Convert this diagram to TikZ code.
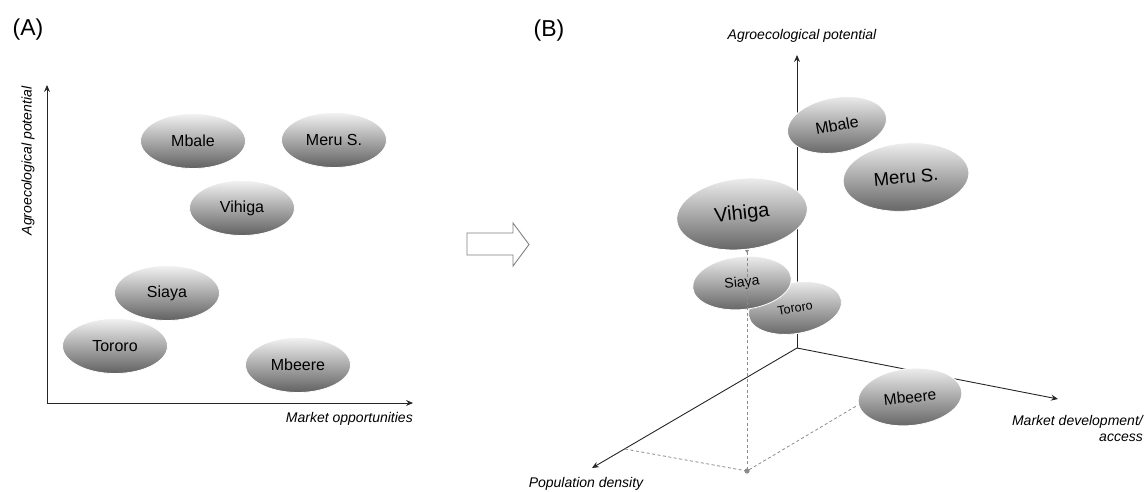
\documentclass[tikz,border=0pt]{standalone}
\usepackage{fontspec}
\setmainfont{Liberation Sans}
\usetikzlibrary{shapes.geometric,arrows.meta}

\begin{document}
\begin{tikzpicture}[x=1pt, y=-1pt,
    site/.style={ellipse, draw=white, line width=0.8pt, inner sep=0pt,
                 top color=black!5, bottom color=black!62,
                 minimum width=105pt, minimum height=55pt,
                 font=\fontsize{16}{18}\selectfont},
    axis/.style={draw=black!85, line width=0.9pt,
                 -{Stealth[length=7pt,width=6pt,inset=2.5pt]}},
    axislabel/.style={font=\fontsize{14}{16}\selectfont\itshape, inner sep=0pt},
    panel/.style={font=\fontsize{23}{26}\selectfont, inner sep=0pt},
    guide/.style={draw=black!45, line width=0.8pt, dash pattern=on 3pt off 2.5pt},
  ]
  \useasboundingbox (0,0) rectangle (1146,491);

  % Panel A: two axes
  \node[panel] (labA) at (28,30) {(A)};
  \coordinate (aO) at (47,403);
  \coordinate (aY) at (47,85);
  \coordinate (aX) at (413,403);
  \draw[axis] (aO) -- (aY);
  \draw[axis] (aO) -- (aX);
  \node[axislabel, rotate=90] (aYlab) at (28,161) {Agroecological potential};
  \node[axislabel, anchor=east] (aXlab) at (413,419) {Market opportunities};
  % the sites
  \node[site] (aMbale) at (193,141) {Mbale};
  \node[site] (aMeru) at (334,140) {Meru S.};
  \node[site] (aVihiga) at (242,208) {Vihiga};
  \node[site] (aSiaya) at (167,293) {Siaya};
  \node[site] (aTororo) at (115,346) {Tororo};
  \node[site] (aMbeere) at (298,365) {Mbeere};

  % the arrow between the panels
  \draw[draw=black!50, fill=white, line width=0.9pt]
    (467,233) -- (513,233) -- (513,223) -- (529,244.5) -- (513,266)
    -- (513,255) -- (467,255) -- cycle;

  % Panel B: three axes
  \node[panel] (labB) at (549,31) {(B)};
  \coordinate (bO) at (797,348);
  \coordinate (bY) at (797,55);
  \coordinate (bX) at (1058,399);
  \coordinate (bZ) at (592,468);
  \draw[axis] (bO) -- (bY);
  \draw[axis] (bO) -- (bX);
  \draw[axis] (bO) -- (bZ);
  \node[axislabel] (bYlab) at (802,36) {Agroecological potential};
  \node[axislabel, anchor=north east, align=right] (bXlab) at (1143,415)
    {Market development/\\access};
  \node[axislabel] (bZlab) at (586,484) {Population density};
  % lower sites first, the guides run over them
  \node[site, rotate=10, minimum width=94pt, minimum height=51pt,
        font=\fontsize{12.5}{14}\selectfont] (bTororo) at (795,308) {Tororo};
  \node[site, rotate=6, minimum width=99pt, minimum height=53pt,
        font=\fontsize{14}{16}\selectfont] (bSiaya) at (742,283) {Siaya};
  % guides down to the floor
  \coordinate (bDot) at (747,471);
  \coordinate (bVfoot) at (747,250);
  \coordinate (bZfoot) at (625,449);
  \coordinate (bMfoot) at (858,405);
  \draw[guide, {Triangle[reversed,width=4pt,length=3pt]}-] (bVfoot) -- (bDot);
  \draw[guide] (bZfoot) -- (bDot) -- (bMfoot);
  \fill[black!45] (bDot) circle (2.6);
  % upper sites
  \node[site, rotate=6, minimum width=131pt, minimum height=71pt,
        font=\fontsize{20}{22}\selectfont] (bVihiga) at (742,214) {Vihiga};
  \node[site, rotate=10, minimum width=100pt, minimum height=55pt,
        font=\fontsize{16}{18}\selectfont] (bMbale) at (837,125) {Mbale};
  \node[site, rotate=5, minimum width=126pt, minimum height=68pt,
        font=\fontsize{18.5}{20}\selectfont] (bMeru) at (906,177) {Meru S.};
  \node[site, rotate=6, minimum width=104pt, minimum height=57pt,
        font=\fontsize{15.5}{17}\selectfont] (bMbeere) at (910,397) {Mbeere};
\end{tikzpicture}
\end{document}
